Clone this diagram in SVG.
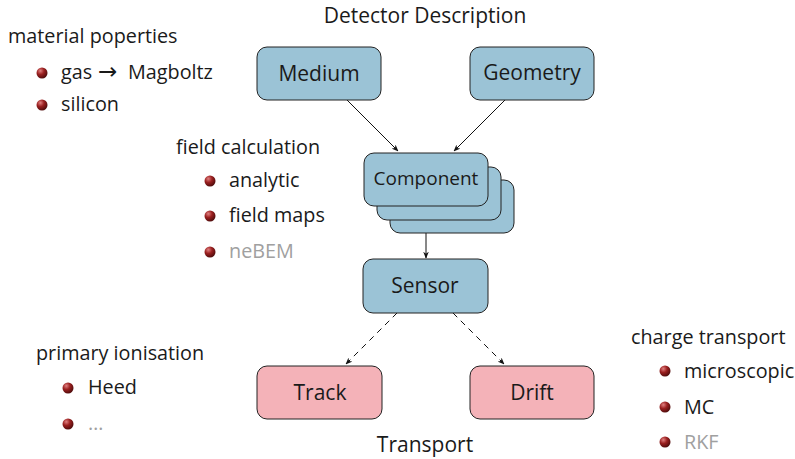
<svg xmlns="http://www.w3.org/2000/svg" width="795" height="459" viewBox="0 0 795 459">
  <style>
    text { font-family: "Open Sans", "Liberation Sans", sans-serif; fill: #1a1a1a; }
    .lbl { font-size: 19.8px; }
    .node-lbl { font-size: 21px; text-anchor: middle; }
    .title { font-size: 21px; text-anchor: middle; }
    .muted { fill: #a0a0a0; }
    .arr { font-family: "DejaVu Sans", sans-serif; font-size: 23px; }
    .blue { fill: #9bc3d6; stroke: #222; stroke-width: 1; }
    .pink { fill: #f4b2b8; stroke: #222; stroke-width: 1; }
    .edge { fill: none; stroke: #111; stroke-width: 1; }
    .dashed { stroke-dasharray: 6 5; }
  </style>
  <defs>
    <radialGradient id="ball" cx="0.35" cy="0.3" r="0.75">
      <stop offset="0" stop-color="#e08080"/>
      <stop offset="0.45" stop-color="#9b2020"/>
      <stop offset="1" stop-color="#4a0a0a"/>
    </radialGradient>
    <marker id="arrow" viewBox="0 0 10 10" refX="9" refY="5" markerWidth="7" markerHeight="7" orient="auto">
      <path d="M0,1 L10,5 L0,9 L3,5 Z" fill="#111"/>
    </marker>
  </defs>

  <!-- headings -->
  <text class="title" x="425" y="23">Detector Description</text>
  <text class="title" x="425" y="452">Transport</text>

  <!-- connectors -->
  <g id="connectors">
    <line class="edge" x1="347" y1="100" x2="398" y2="151" marker-end="url(#arrow)"/>
    <line class="edge" x1="505" y1="100" x2="454" y2="151" marker-end="url(#arrow)"/>
    <line class="edge" x1="426" y1="206" x2="426" y2="258" marker-end="url(#arrow)"/>
    <line class="edge dashed" x1="397" y1="313" x2="346" y2="364" marker-end="url(#arrow)"/>
    <line class="edge dashed" x1="453" y1="313" x2="504" y2="364" marker-end="url(#arrow)"/>
  </g>

  <!-- nodes -->
  <g id="medium">
    <rect class="blue" x="257" y="47" width="124" height="53" rx="10"/>
    <text class="node-lbl" x="319" y="81">Medium</text>
  </g>
  <g id="geometry">
    <rect class="blue" x="470" y="47" width="124" height="53" rx="10"/>
    <text class="node-lbl" x="532" y="80">Geometry</text>
  </g>
  <g id="component">
    <rect class="blue" x="390" y="180" width="124" height="53" rx="10"/>
    <rect class="blue" x="377" y="167" width="124" height="53" rx="10"/>
    <rect class="blue" x="364" y="153" width="124" height="53" rx="10"/>
    <text class="node-lbl" x="426" y="185" style="font-size:19px">Component</text>
  </g>
  <g id="sensor">
    <rect class="blue" x="363" y="259" width="125" height="54" rx="10"/>
    <text class="node-lbl" x="425" y="293">Sensor</text>
  </g>
  <g id="track">
    <rect class="pink" x="257" y="366" width="125" height="53" rx="10"/>
    <text class="node-lbl" x="320" y="400">Track</text>
  </g>
  <g id="drift">
    <rect class="pink" x="470" y="366" width="124" height="53" rx="10"/>
    <text class="node-lbl" x="532" y="400">Drift</text>
  </g>

  <!-- material properties list -->
  <g id="material-list">
    <text class="lbl" x="8" y="43">material poperties</text>
    <circle cx="42" cy="73" r="5.5" fill="url(#ball)"/>
    <text class="lbl" x="61" y="79">gas<tspan class="arr" x="98">→</tspan><tspan x="128">Magboltz</tspan></text>
    <circle cx="42" cy="105" r="5.5" fill="url(#ball)"/>
    <text class="lbl" x="61" y="111">silicon</text>
  </g>

  <!-- field calculation list -->
  <g id="field-list">
    <text class="lbl" x="176" y="154">field calculation</text>
    <circle cx="210" cy="181" r="5.5" fill="url(#ball)"/>
    <text class="lbl" x="229" y="187">analytic</text>
    <circle cx="210" cy="216" r="5.5" fill="url(#ball)"/>
    <text class="lbl" x="229" y="222">field maps</text>
    <circle cx="210" cy="252" r="5.5" fill="url(#ball)"/>
    <text class="lbl muted" x="229" y="258">neBEM</text>
  </g>

  <!-- primary ionisation list -->
  <g id="ionisation-list">
    <text class="lbl" x="36" y="360">primary ionisation</text>
    <circle cx="68" cy="388" r="5.5" fill="url(#ball)"/>
    <text class="lbl" x="88" y="394">Heed</text>
    <circle cx="68" cy="424" r="5.5" fill="url(#ball)"/>
    <text class="lbl muted" x="88" y="430">…</text>
  </g>

  <!-- charge transport list -->
  <g id="charge-list">
    <text class="lbl" x="631" y="344">charge transport</text>
    <circle cx="665" cy="371" r="5.5" fill="url(#ball)"/>
    <text class="lbl" x="684" y="378">microscopic</text>
    <circle cx="665" cy="407" r="5.5" fill="url(#ball)"/>
    <text class="lbl" x="684" y="414">MC</text>
    <circle cx="665" cy="442" r="5.5" fill="url(#ball)"/>
    <text class="lbl muted" x="684" y="449">RKF</text>
  </g>
</svg>
